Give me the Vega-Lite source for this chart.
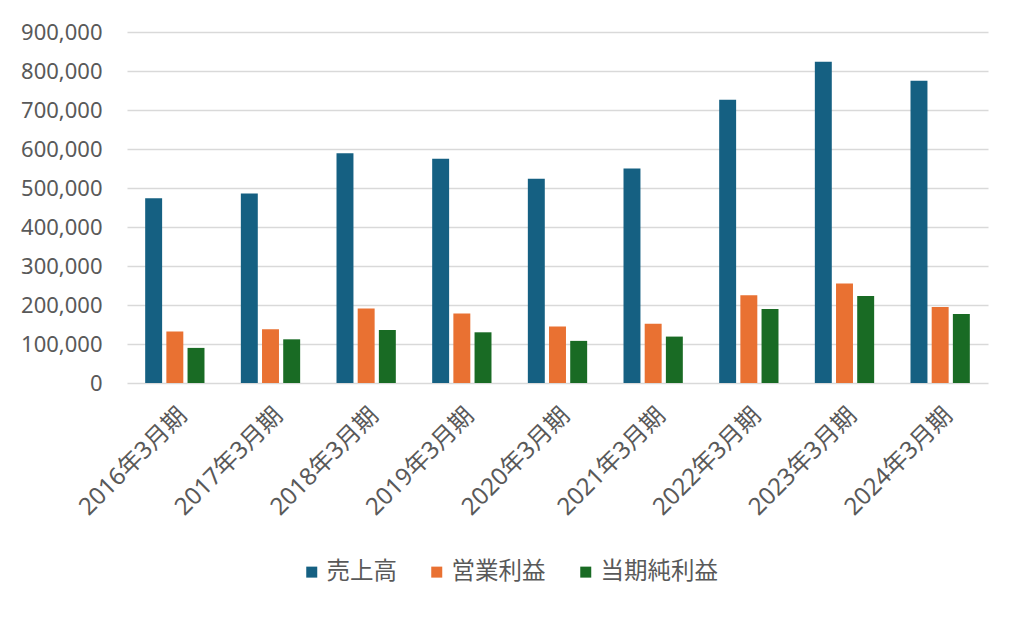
{
  "$schema": "https://vega.github.io/schema/vega-lite/v6.json",
  "width": 861,
  "height": 351,
  "autosize": {"type": "none"},
  "padding": {"left": 127, "top": 32, "right": 36, "bottom": 234},
  "background": "white",
  "data": {
    "values": [
      {"期": "2016年3月期", "系列": "売上高", "値": 474000},
      {"期": "2016年3月期", "系列": "営業利益", "値": 132000},
      {"期": "2016年3月期", "系列": "当期純利益", "値": 90000},
      {"期": "2017年3月期", "系列": "売上高", "値": 486000},
      {"期": "2017年3月期", "系列": "営業利益", "値": 138000},
      {"期": "2017年3月期", "系列": "当期純利益", "値": 112000},
      {"期": "2018年3月期", "系列": "売上高", "値": 589000},
      {"期": "2018年3月期", "系列": "営業利益", "値": 191000},
      {"期": "2018年3月期", "系列": "当期純利益", "値": 136000},
      {"期": "2019年3月期", "系列": "売上高", "値": 575000},
      {"期": "2019年3月期", "系列": "営業利益", "値": 178000},
      {"期": "2019年3月期", "系列": "当期純利益", "値": 130000},
      {"期": "2020年3月期", "系列": "売上高", "値": 524000},
      {"期": "2020年3月期", "系列": "営業利益", "値": 145000},
      {"期": "2020年3月期", "系列": "当期純利益", "値": 108000},
      {"期": "2021年3月期", "系列": "売上高", "値": 550000},
      {"期": "2021年3月期", "系列": "営業利益", "値": 152000},
      {"期": "2021年3月期", "系列": "当期純利益", "値": 119000},
      {"期": "2022年3月期", "系列": "売上高", "値": 726000},
      {"期": "2022年3月期", "系列": "営業利益", "値": 225000},
      {"期": "2022年3月期", "系列": "当期純利益", "値": 190000},
      {"期": "2023年3月期", "系列": "売上高", "値": 824000},
      {"期": "2023年3月期", "系列": "営業利益", "値": 255000},
      {"期": "2023年3月期", "系列": "当期純利益", "値": 223000},
      {"期": "2024年3月期", "系列": "売上高", "値": 775000},
      {"期": "2024年3月期", "系列": "営業利益", "値": 195000},
      {"期": "2024年3月期", "系列": "当期純利益", "値": 177000}
    ]
  },
  "mark": {"type": "bar"},
  "encoding": {
    "x": {
      "field": "期",
      "type": "nominal",
      "sort": null,
      "scale": {"paddingInner": 0.38, "paddingOuter": 0.19},
      "axis": {
        "title": null,
        "labelAngle": -45,
        "labelFontSize": 24,
        "labelColor": "#595959",
        "labelFont": "Noto Sans, Noto Sans CJK JP",
        "ticks": false,
        "domain": false,
        "labelPadding": 20
      }
    },
    "xOffset": {
      "field": "系列",
      "type": "nominal",
      "sort": ["売上高", "営業利益", "当期純利益"],
      "scale": {"paddingInner": 0.2, "paddingOuter": 0}
    },
    "y": {
      "field": "値",
      "type": "quantitative",
      "scale": {"domain": [0, 900000], "nice": false},
      "axis": {
        "title": null,
        "values": [0, 100000, 200000, 300000, 400000, 500000, 600000, 700000, 800000, 900000],
        "format": ",d",
        "grid": true,
        "gridColor": "#D9D9D9",
        "gridWidth": 1.5,
        "domain": false,
        "ticks": false,
        "labelPadding": 25,
        "labelFontSize": 22,
        "labelColor": "#595959",
        "labelFont": "Noto Sans, Noto Sans CJK JP"
      }
    },
    "color": {
      "field": "系列",
      "type": "nominal",
      "scale": {
        "domain": ["売上高", "営業利益", "当期純利益"],
        "range": ["#156082", "#E97132", "#196B24"]
      },
      "legend": {
        "title": null,
        "orient": "none",
        "direction": "horizontal",
        "legendX": 173,
        "legendY": 528,
        "symbolType": "square",
        "symbolSize": 121,
        "symbolStrokeWidth": 0,
        "labelFontSize": 23.5,
        "labelFont": "Noto Sans CJK JP",
        "labelColor": "#595959",
        "labelOffset": 3,
        "columnPadding": 28
      }
    }
  },
  "config": {"view": {"stroke": null}}
}
